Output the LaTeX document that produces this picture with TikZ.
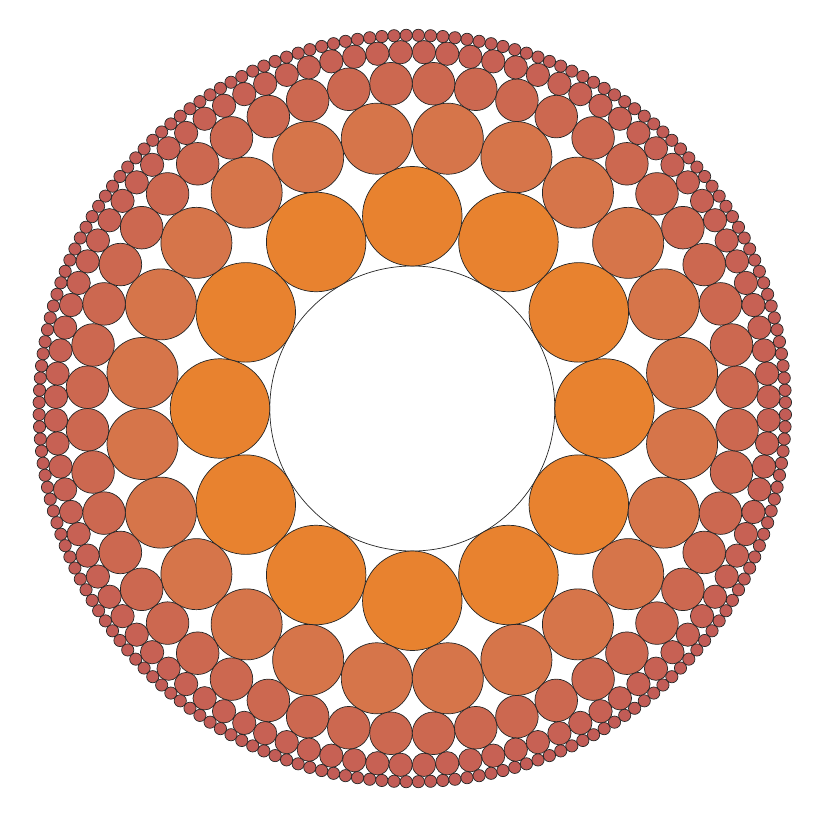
\documentclass[tikz,border=0pt]{standalone}
\definecolor{ringA}{HTML}{E8822F}
\definecolor{ringB}{HTML}{D6754A}
\definecolor{ringC}{HTML}{CC6850}
\definecolor{ringD}{HTML}{C76154}
\definecolor{ringE}{HTML}{C25C56}
\tikzset{disc/.style={draw=black!85,line width=0.7pt}}
\begin{document}
\begin{tikzpicture}
\useasboundingbox (-412.3pt,-411.5pt) rectangle (407.7pt,408.5pt);
\node[disc,circle,minimum size=285pt,inner sep=0pt] (core) at (0,0) {};
% ring 1: 12 circles
\foreach \k in {0,...,11}{
  \path[disc,fill=ringA] (\k*30:192.26pt) circle[radius=49.76pt];
}
% ring 2: 24 circles
\foreach \k in {0,...,23}{
  \path[disc,fill=ringB] (7.5+\k*15:272.12pt) circle[radius=35.52pt];
}
% ring 3: 48 circles
\foreach \k in {0,...,47}{
  \path[disc,fill=ringC] (3.75+\k*7.5:325.48pt) circle[radius=21.29pt];
}
% ring 4: 96 circles
\foreach \k in {0,...,95}{
  \path[disc,fill=ringD] (1.875+\k*3.75:356.50pt) circle[radius=11.664pt];
}
% ring 5: 192 circles
\foreach \k in {0,...,191}{
  \path[disc,fill=ringE] (0.9375+\k*1.875:373.23pt) circle[radius=6.107pt];
}
\end{tikzpicture}
\end{document}
